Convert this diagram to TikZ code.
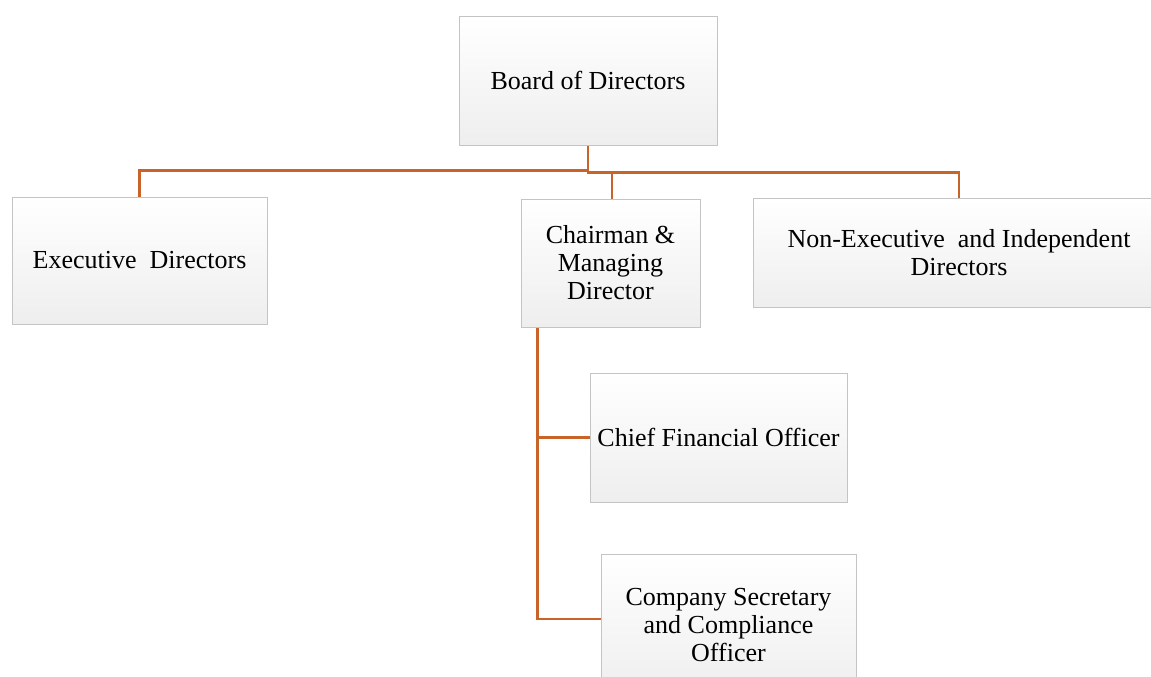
\documentclass[tikz,border=0pt]{standalone}
\usepackage{fontspec}
\setmainfont{Liberation Serif}
\usetikzlibrary{backgrounds}
\definecolor{linkc}{RGB}{200,100,42}
\definecolor{boxline}{RGB}{196,196,196}
\definecolor{boxbot}{RGB}{238,238,238}
\begin{document}
\begin{tikzpicture}[x=1pt,y=-1pt,
  orgbox/.style={draw=boxline, line width=0.8pt, top color=white, middle color=white, bottom color=boxbot,
    inner sep=0pt, align=center, font=\fontsize{26}{28}\selectfont, text=black},
  link/.style={draw=linkc, line width=2.8pt}]
\useasboundingbox (0,0) rectangle (1151,677);
\clip (0,0) rectangle (1151,677);
\node[orgbox, minimum width=258pt, minimum height=129pt] (board) at (588,80.5) {Board of Directors};
\node[orgbox, minimum width=255pt, minimum height=127pt] (exec) at (139.5,260.5) {Executive\ \ Directors};
\node[orgbox, minimum width=179pt, minimum height=128pt] (chair) at (610.5,263) {Chairman \&\\Managing\\Director};
\node[orgbox, minimum width=412pt, minimum height=109pt] (nonexec) at (959,252.5) {Non-Executive\ \ and Independent\\Directors};
\node[orgbox, minimum width=257pt, minimum height=129pt] (cfo) at (718.5,437.5) {Chief Financial Officer};
\node[orgbox, minimum width=255pt, minimum height=143pt] (cs) at (728.5,625.5) {Company Secretary\\and Compliance\\Officer};
\coordinate (j) at ([yshift=-25pt]board.south);
\coordinate (j2) at ([yshift=-27pt]board.south);
\coordinate (v) at ([xshift=17pt]chair.south west);
\begin{scope}[on background layer]
\fill[white] (0,0) rectangle (1151,677);
\draw[link] (board.south) -- (j) -| (exec.north);
\draw[link] (j) -- (j2) -| (nonexec.north);
\draw[link] (j2) -| ([xshift=1.5pt]chair.north);
\draw[link] (v) |- (cfo.west);
\draw[link] (v) |- ([yshift=6.5pt]cs.west);
\end{scope}
\end{tikzpicture}
\end{document}
